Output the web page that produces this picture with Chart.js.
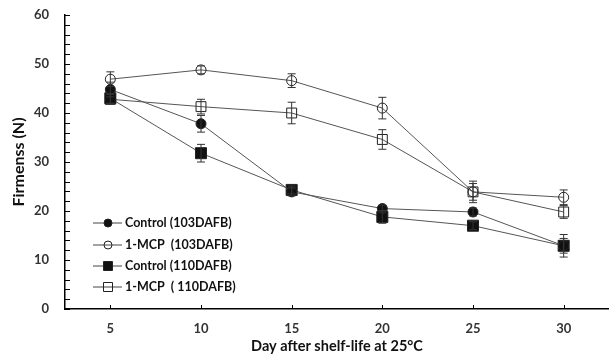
<!DOCTYPE html>
<html>
<head>
<meta charset="utf-8">
<script src="https://cdn.jsdelivr.net/npm/chart.js@4"></script>
<style>
  html, body { margin: 0; padding: 0; background: #fff; }
</style>
</head>
<body>
<canvas id="chart" width="609" height="355"></canvas>
<script>
// values
const days = ['5', '10', '15', '20', '25', '30'];
const control103 = [44.8, 37.8, 23.9, 20.5, 19.8, 12.9];
const mcp103 = [46.9, 48.8, 46.6, 41.0, 23.9, 22.8];
const control110 = [43.0, 31.8, 24.3, 18.8, 17.0, 12.9];
const mcp110 = [42.8, 41.3, 40.0, 34.6, 23.9, 19.8];
const control103Err = [1.5, 1.7, 0.8, 0.7, 0.8, 1.5];
const mcp103Err = [1.5, 0.8, 1.4, 2.2, 1.7, 1.5];
const control110Err = [1.0, 1.8, 0.8, 1.3, 0.8, 2.3];
const mcp110Err = [1.0, 1.5, 2.2, 2.0, 2.2, 1.3];
const yTicks = [0, 10, 20, 30, 40, 50, 60];

const FONT = "Lato, 'Open Sans', sans-serif";

function marker(ctx, style, x, y, size, filled) {
    ctx.beginPath();
    if (style === 'circle') ctx.arc(x, y, size, 0, Math.PI * 2);
    else ctx.rect(x - size, y - size, size * 2, size * 2);
    if (filled) { ctx.fillStyle = '#111'; ctx.fill(); }
    ctx.strokeStyle = '#222';
    ctx.lineWidth = 1;
    ctx.stroke();
}

// error bars with caps
const errorBars = {
    id: 'errorBars',
    afterDatasetsDraw(chart) {
        const ctx = chart.ctx;
        const y = chart.scales.y;
        ctx.save();
        ctx.strokeStyle = '#333';
        ctx.lineWidth = 1;
        chart.data.datasets.forEach((ds, i) => {
            const meta = chart.getDatasetMeta(i);
            meta.data.forEach((pt, j) => {
                const v = ds.data[j], e = ds.err[j];
                const top = y.getPixelForValue(v + e), bot = y.getPixelForValue(v - e);
                ctx.beginPath();
                ctx.moveTo(pt.x, top); ctx.lineTo(pt.x, bot);
                ctx.moveTo(pt.x - 4, top); ctx.lineTo(pt.x + 4, top);
                ctx.moveTo(pt.x - 4, bot); ctx.lineTo(pt.x + 4, bot);
                ctx.stroke();
            });
        });
        ctx.restore();
    }
};

// inside tick marks on both axes
const innerTicks = {
    id: 'innerTicks',
    afterDraw(chart) {
        const ctx = chart.ctx;
        const x = chart.scales.x, y = chart.scales.y;
        ctx.save();
        ctx.strokeStyle = '#000';
        ctx.lineWidth = 1;
        ctx.beginPath();
        for (let v = 0; v <= 60; v += 2) {
            const py = Math.round(y.getPixelForValue(v)) + 0.5;
            ctx.moveTo(x.left, py); ctx.lineTo(x.left + 5, py);
        }
        days.forEach((d, i) => {
            const px = Math.round(x.getPixelForValue(i)) + 0.5;
            ctx.moveTo(px, y.bottom); ctx.lineTo(px, y.bottom - 4);
        });
        ctx.stroke();
        ctx.restore();
    }
};

// legend placed inside the plot, lower left
const insideLegend = {
    id: 'insideLegend',
    afterDraw(chart) {
        const ctx = chart.ctx;
        const rows = [223, 245, 266, 287];
        ctx.save();
        ctx.font = 'bold 12.5px ' + FONT;
        ctx.textBaseline = 'middle';
        chart.data.datasets.forEach((ds, i) => {
            const yy = rows[i];
            ctx.strokeStyle = '#444';
            ctx.lineWidth = 1;
            ctx.beginPath();
            ctx.moveTo(93, yy); ctx.lineTo(122, yy);
            ctx.stroke();
            const sz = ds.pointStyle === 'circle' ? 4 : 4.5;
            marker(ctx, ds.pointStyle, 108, yy, sz, ds.filled);
            ctx.fillStyle = '#111';
            ctx.fillText(ds.label, 125, yy);
        });
        ctx.restore();
    }
};

function series(label, data, err, style, filled, radius) {
    return {
        label, data, err, filled,
        borderColor: '#555',
        borderWidth: 1,
        pointStyle: style,
        pointRadius: radius,
        pointBorderColor: '#222',
        pointBorderWidth: 1,
        pointBackgroundColor: filled ? '#111' : 'rgba(0,0,0,0)',
        tension: 0
    };
}

new Chart(document.getElementById('chart'), {
    type: 'line',
    data: {
        labels: days,
        datasets: [
            series('Control (103DAFB)', control103, control103Err, 'circle', true, 5),
            series('1-MCP  (103DAFB)', mcp103, mcp103Err, 'circle', false, 5),
            series('Control (110DAFB)', control110, control110Err, 'rect', true, 7.8),
            series('1-MCP  ( 110DAFB)', mcp110, mcp110Err, 'rect', false, 7)
        ]
    },
    options: {
        responsive: false,
        animation: false,
        layout: { autoPadding: false, padding: { top: 15, right: 0, left: 0, bottom: 0 } },
        plugins: { legend: { display: false }, tooltip: { enabled: false } },
        scales: {
            x: {
                offset: true,
                grid: { display: false, drawTicks: false },
                border: { color: '#000', width: 1.5 },
                ticks: { color: '#333', padding: 12, font: { family: FONT, size: 13, weight: 'bold' } },
                title: { display: true, text: 'Day after shelf-life at 25\u00b0C', color: '#111',
                         padding: { top: 0, bottom: 0 }, font: { family: FONT, size: 14.5, weight: 'bold' } },
                afterFit(s) { s.height = 46; s.paddingLeft = 0; s.paddingRight = 0; }
            },
            y: {
                min: 0, max: 60,
                afterBuildTicks(s) { s.ticks = yTicks.map(v => ({ value: v })); },
                grid: { display: false, drawTicks: false },
                border: { color: '#000', width: 1.5 },
                ticks: { color: '#333', padding: 16, font: { family: FONT, size: 13, weight: 'bold' } },
                title: { display: true, text: 'Firmenss (N)', color: '#111',
                         padding: { top: 9, bottom: 0 }, font: { family: FONT, size: 16, weight: 'bold' } },
                afterFit(s) { s.width = 65; s.paddingTop = 0; s.paddingBottom = 0; }
            }
        }
    },
    plugins: [errorBars, innerTicks, insideLegend]
});
</script>
</body>
</html>
